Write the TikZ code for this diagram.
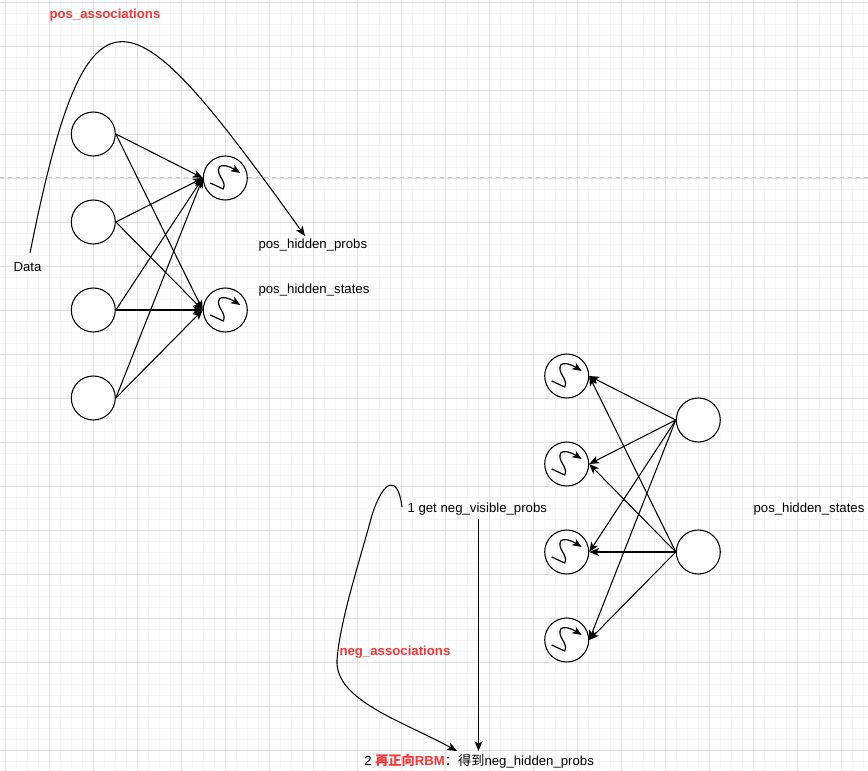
\documentclass[tikz,border=0pt]{standalone}
\usepackage{fontspec}
\setmainfont{Liberation Sans}
\newfontfamily\cjk{Noto Sans CJK SC}
\usetikzlibrary{arrows.meta}
\definecolor{lbl}{RGB}{255,51,51}
\definecolor{gridminor}{RGB}{246,246,246}
\definecolor{gridmajor}{RGB}{226,226,226}
\definecolor{pagebreak}{RGB}{195,195,195}

\begin{document}
\begin{tikzpicture}[x=0.75pt,y=-0.75pt,
  unit/.style={circle,draw=black,fill=white,line width=0.8pt,minimum size=33pt,inner sep=0pt},
  edge/.style={line width=0.8pt,-{Stealth[length=7.4pt,width=6pt,inset=2pt]}},
  txt/.style={anchor=base west,inner sep=0pt,font=\fontsize{9.9pt}{12pt}\selectfont},
  hot/.style={anchor=base west,inner sep=0pt,text=lbl,font=\fontsize{9.9pt}{12pt}\selectfont\bfseries},
  sigm/.pic={\draw[line width=0.9pt,line join=round,-{Stealth[length=7pt,width=5.6pt,inset=1.8pt]}]
      (-15,5) -- (-2,11) .. controls (2,3) and (-10,-3) .. (-6,-11)
      .. controls (-4,-14) and (4,-12) .. (15,-5);}
]
% canvas and grid
\fill[white] (0,0) rectangle (868,771);
\useasboundingbox (0,0) rectangle (868,771);
\foreach \k in {0,...,78} \draw[gridminor,line width=0.75pt] ({5.3+11*\k},0) -- ({5.3+11*\k},771);
\foreach \k in {0,...,69} \draw[gridminor,line width=0.75pt] (0,{2.7+11*\k}) -- (868,{2.7+11*\k});
\foreach \k in {0,...,19} \draw[gridmajor,line width=0.75pt] ({5.3+44*\k},0) -- ({5.3+44*\k},771);
\foreach \k in {0,...,17} \draw[gridmajor,line width=0.75pt] (0,{2.7+44*\k}) -- (868,{2.7+44*\k});
\draw[pagebreak,line width=0.75pt,dash pattern=on 3pt off 3pt] (0,177.3) -- (868,177.3);

% first layer: visible units feeding two sigmoid units
\node[unit] (v1) at (93.3,134) {};
\node[unit] (v2) at (93.3,222) {};
\node[unit] (v3) at (93.3,310) {};
\node[unit] (v4) at (93.3,398) {};
\node[unit] (h1) at (225.3,178) {};
\node[unit] (h2) at (225.3,310) {};
\pic at (h1) {sigm};
\pic at (h2) {sigm};
\foreach \v in {v1,v2,v3,v4}
  \foreach \h in {h1,h2}
    \draw[edge] (\v.east) -- (\h.west);

% reconstruction: hidden states back to four sigmoid units
\node[unit] (g1) at (566.7,376) {};
\node[unit] (g2) at (566.7,464) {};
\node[unit] (g3) at (566.7,552) {};
\node[unit] (g4) at (566.7,640) {};
\node[unit] (w1) at (698.3,420) {};
\node[unit] (w2) at (698.3,552) {};
\foreach \g in {g1,g2,g3,g4} \pic at (\g) {sigm};
\foreach \w in {w1,w2}
  \foreach \g in {g1,g2,g3,g4}
    \draw[edge] (\w.west) -- (\g.east);

% labels
\node[hot] (posa) at (49.3,18.5) {pos\_associations};
\node[txt] (data) at (13.3,271) {Data};
\node[txt] (php) at (258.3,248.5) {pos\_hidden\_probs};
\node[txt] (phs) at (258.3,293.5) {pos\_hidden\_states};
\node[txt] (phs2) at (753.3,512.5) {pos\_hidden\_states};
\node[txt] (gnv) at (407.3,512.5) {1 get neg\_visible\_probs};
\node[hot] (nega) at (339.3,655.3) {neg\_associations};
\node[txt] (nhp) at (364,765) {2 \textcolor{lbl}{\bfseries{\cjk 再正向}RBM}{\cjk ：得到}neg\_hidden\_probs};

% curved and straight connectors between labels
\coordinate (pa-s) at (30,253);
\coordinate (pa-e) at (305,236);
\draw[edge] (pa-s) .. controls (89,-42) and (130,-8) .. (pa-e);

\coordinate (na-s) at (402,507);
\coordinate (na-e) at (457,751);
\draw[edge] (na-s) .. controls (398,475) and (384,478) .. (372,515)
  .. controls (360,560) and (340,620) .. (337,660)
  .. controls (335,700) and (400,720) .. (na-e);

\coordinate (vs) at (478.5,519);
\coordinate (ve) at (478.5,751);
\draw[edge] (vs) -- (ve);
\end{tikzpicture}
\end{document}
